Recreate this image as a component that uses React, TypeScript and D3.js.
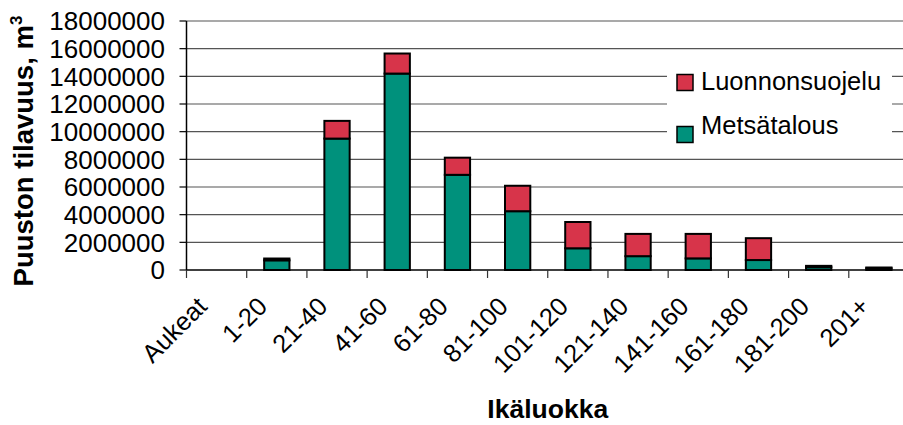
import React from "react";
import * as d3 from "d3";

const categories = ["Aukeat", "1-20", "21-40", "41-60", "61-80", "81-100", "101-120", "121-140", "141-160", "161-180", "181-200", "201+"];
const metsatalous = [0, 700000, 9500000, 14200000, 6880000, 4250000, 1570000, 1000000, 840000, 720000, 200000, 120000];
const luonnonsuojelu = [0, 130000, 1280000, 1450000, 1240000, 1840000, 1900000, 1610000, 1770000, 1580000, 100000, 60000];
const yTickValues = [0, 2000000, 4000000, 6000000, 8000000, 10000000, 12000000, 14000000, 16000000, 18000000];
const seriesKeys = ["Metsätalous", "Luonnonsuojelu"];
const seriesColors = ["#00917C", "#D7344A"];
const legendOrder = ["Luonnonsuojelu", "Metsätalous"];

const W = 903;
const H = 425;
const plotLeft = 186.5;
const plotRight = 909;
const plotTop = 21;
const plotBottom = 270;
const FONT = "'Liberation Sans', Arial, Helvetica, sans-serif";

export default function App() {
  const rows = categories.map((c, i) => ({
    cat: c,
    "Metsätalous": metsatalous[i],
    "Luonnonsuojelu": luonnonsuojelu[i],
  }));
  const stack = d3.stack<any>().keys(seriesKeys);
  const layers = stack(rows);
  const x = d3.scaleBand<string>().domain(categories).range([plotLeft, plotRight]).padding(0);
  const y = d3.scaleLinear().domain([0, 18000000]).range([plotBottom, plotTop]);
  const bw = x.bandwidth() * 0.42;
  const color = d3.scaleOrdinal<string, string>().domain(seriesKeys).range(seriesColors);

  return (
    <svg width={W} height={H} style={{ position: "absolute", left: 0, top: 0, background: "#fff" }} fontFamily={FONT}>
      <rect x={0} y={0} width={W} height={H} fill="#fff" />
      {/* gridlines */}
      {yTickValues.filter((v) => v > 0).map((v) => (
        <line key={"g" + v} x1={plotLeft} x2={plotRight} y1={y(v)} y2={y(v)} stroke="#555" strokeWidth={1.2} />
      ))}
      {/* legend background */}
      <rect x={667} y={57} width={225} height={95} fill="#fff" />
      {/* bars */}
      {layers.map((layer) => (
        <g key={layer.key} fill={color(layer.key)}>
          {layer.map((d, i) => {
            const h = y(d[0]) - y(d[1]);
            if (h <= 0) return null;
            return (
              <rect
                key={i}
                x={(x(categories[i]) as number) + (x.bandwidth() - bw) / 2}
                y={y(d[1])}
                width={bw}
                height={h}
                stroke="#000"
                strokeWidth={2}
              />
            );
          })}
        </g>
      ))}
      {/* y axis */}
      <line x1={plotLeft} x2={plotLeft} y1={plotTop} y2={plotBottom} stroke="#000" strokeWidth={1.5} />
      {yTickValues.map((v) => (
        <g key={"t" + v}>
          <line x1={plotLeft - 7} x2={plotLeft} y1={y(v)} y2={y(v)} stroke="#000" strokeWidth={1.2} />
          <text x={165} y={y(v)} dy="0.36em" textAnchor="end" fontSize={26} fill="#000">
            {String(v)}
          </text>
        </g>
      ))}
      {/* x axis */}
      <line x1={plotLeft} x2={plotRight} y1={plotBottom} y2={plotBottom} stroke="#000" strokeWidth={1.5} />
      {categories.map((c) => (
        <line key={"xt" + c} x1={x(c) as number} x2={x(c) as number} y1={plotBottom} y2={plotBottom + 8} stroke="#333" strokeWidth={1.2} />
      ))}
      {categories.map((c) => {
        const cx = (x(c) as number) + x.bandwidth() / 2 - 8;
        const cy = 308;
        return (
          <text key={"xl" + c} x={cx} y={cy} textAnchor="end" fontSize={25.5} fill="#000" transform={`rotate(-45, ${cx}, ${cy})`}>
            {c}
          </text>
        );
      })}
      {/* axis titles */}
      <text x={(plotLeft + plotRight) / 2} y={418} textAnchor="middle" fontSize={26.5} fontWeight="bold" fill="#000">
        Ikäluokka
      </text>
      <text
        x={33}
        y={151}
        textAnchor="middle"
        fontSize={27.5}
        fontWeight="bold"
        fill="#000"
        transform="rotate(-90, 33, 151)"
      >
        Puuston tilavuus, m<tspan fontSize={17} dy={-11}>3</tspan>
      </text>
      {/* legend */}
      {legendOrder.map((k, i) => (
        <g key={"lg" + k}>
          <rect x={677} y={i === 0 ? 74.5 : 126.5} width={16} height={16} fill={color(k)} stroke="#000" strokeWidth={1.5} />
          <text x={701} y={i === 0 ? 89.5 : 133.5} fontSize={25.5} fill="#000">
            {k}
          </text>
        </g>
      ))}
    </svg>
  );
}
